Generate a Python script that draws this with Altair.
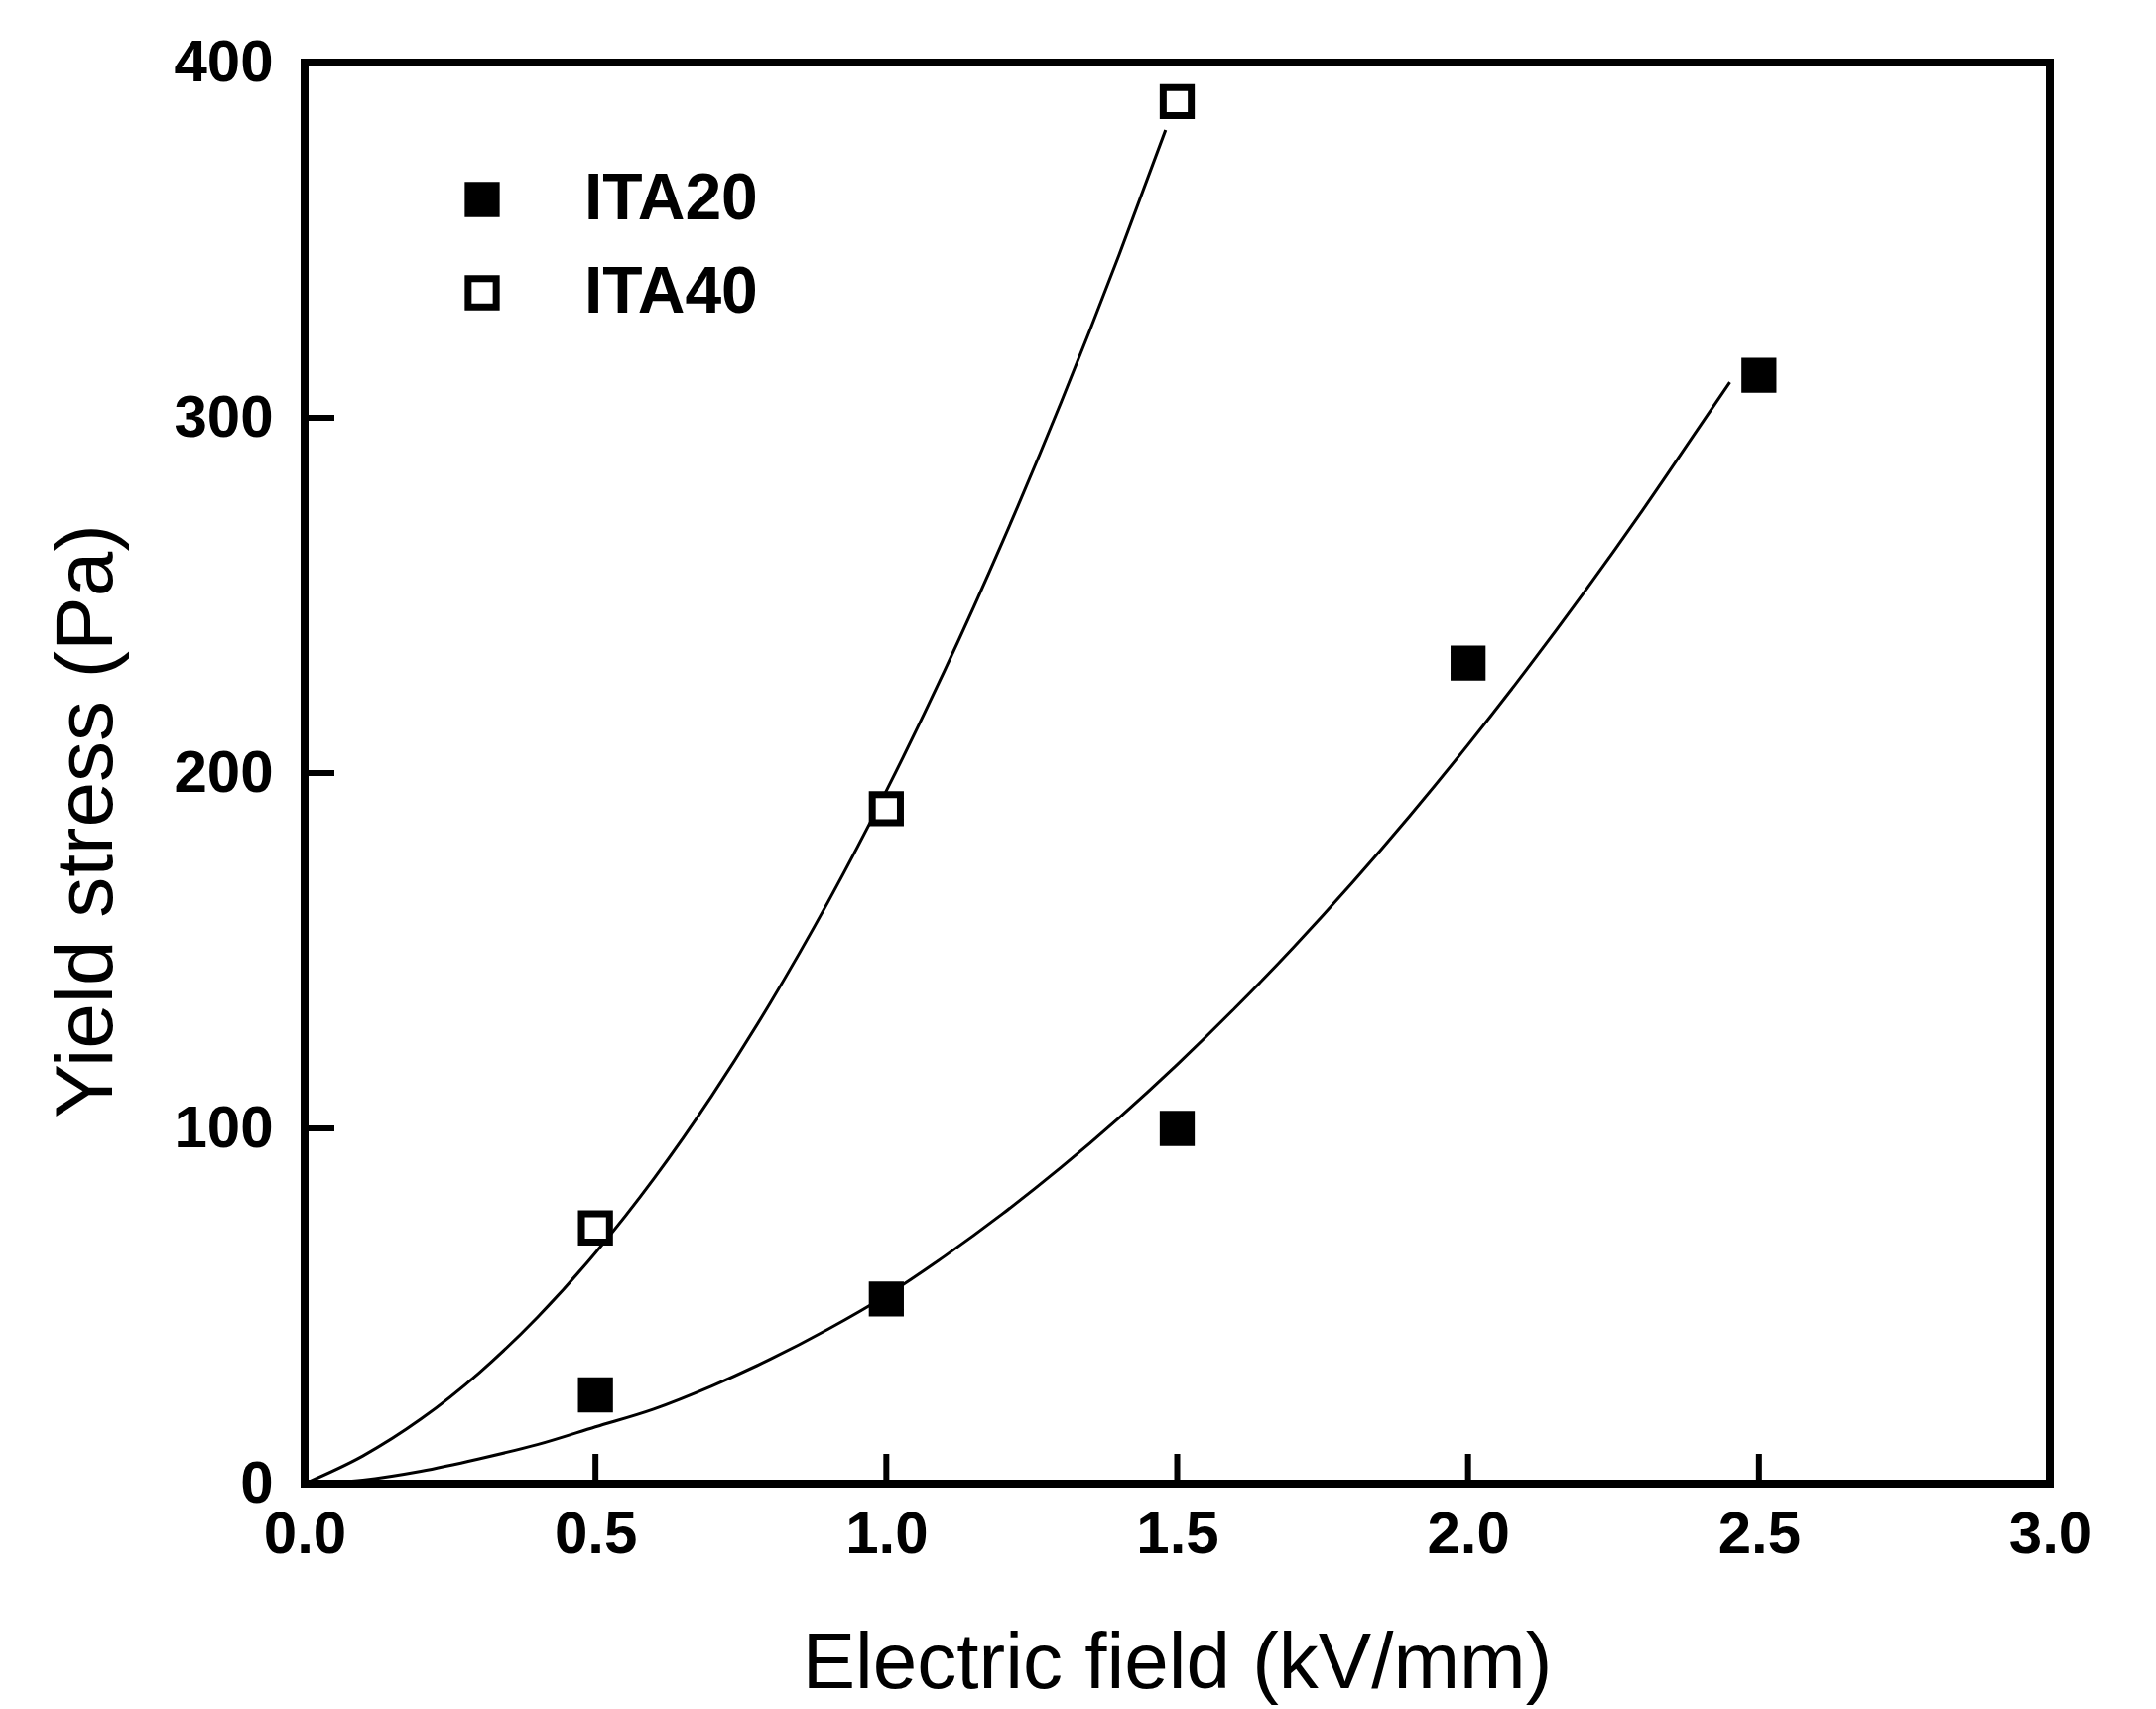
import altair as alt
import pandas as pd

# Measured data points
ita20_e = [0.5, 1.0, 1.5, 2.0, 2.5]
ita20_y = [25, 52, 100, 231, 312]
ita40_e = [0.5, 1.0, 1.5]
ita40_y = [72, 190, 389]

# Fitted curves
fit40_e = [0, 0.1, 0.2, 0.3, 0.4, 0.5, 0.6, 0.7, 0.8, 0.9, 1.0, 1.1, 1.2, 1.3, 1.4, 1.48]
fit40_y = [0, 7.8, 18.2, 31.2, 46.8, 65, 85.8, 109.2, 135.2, 163.8, 195, 228.8, 265.2, 304.2, 345.8, 381]
fit20_e = [0, 0.1, 0.2, 0.3, 0.4, 0.5, 0.6, 0.7, 0.8, 0.9, 1.0, 1.1, 1.2, 1.3, 1.4, 1.5,
           1.6, 1.7, 1.8, 1.9, 2.0, 2.1, 2.2, 2.3, 2.4, 2.45]
fit20_y = [0, 1, 3.5, 7, 11, 16, 21, 27.5, 35, 43.5, 53, 64, 76, 89, 103, 118,
           134, 151, 169, 188, 208, 229, 251, 274, 298, 310]

x_ticks = [0.0, 0.5, 1.0, 1.5, 2.0, 2.5, 3.0]
y_ticks = [0, 100, 200, 300, 400]
series = ["ITA20", "ITA40"]

W, H = 1759, 1432

pts = pd.DataFrame(
    {"E": ita20_e + ita40_e,
     "Y": ita20_y + ita40_y,
     "s": [series[0]] * len(ita20_e) + [series[1]] * len(ita40_e)}
)
fits = pd.DataFrame(
    {"E": fit20_e + fit40_e,
     "Y": fit20_y + fit40_y,
     "s": [series[0]] * len(fit20_e) + [series[1]] * len(fit40_e)}
)
xt = pd.DataFrame({"E": x_ticks})
yt = pd.DataFrame({"Y": y_ticks})

xscale = alt.Scale(domain=[0, 3], nice=False, zero=False)
yscale = alt.Scale(domain=[0, 400], nice=False, zero=False)

LABFONT = "Liberation Sans, Arial, sans-serif"

xaxis = alt.Axis(
    values=x_ticks, format=".1f", title="Electric field (kV/mm)",
    grid=False, ticks=False, tickSize=0, domain=False,
    labelFont=LABFONT, labelFontSize=60, labelFontWeight="bold", labelColor="black",
    labelPadding=22, labelFlush=False,
    titleFont=LABFONT, titleFontSize=80, titleFontWeight="normal", titleColor="black",
    titleX=879, titleY=205, titleBaseline="alphabetic", titleAlign="center",
)
yaxis = alt.Axis(
    values=y_ticks, format="d", title="Yield stress (Pa)",
    grid=False, ticks=False, tickSize=0, domain=False,
    labelFont=LABFONT, labelFontSize=60, labelFontWeight="bold", labelColor="black",
    labelPadding=32, labelFlush=False,
    titleFont=LABFONT, titleFontSize=82, titleFontWeight="normal", titleColor="black",
    titleX=-195, titleY=764, titleBaseline="alphabetic", titleAlign="center", titleAngle=-90,
)

lines = alt.Chart(fits).mark_line(color="black", strokeWidth=3, interpolate="monotone").encode(
    x=alt.X("E:Q", scale=xscale, axis=xaxis),
    y=alt.Y("Y:Q", scale=yscale, axis=yaxis),
    detail="s:N",
)

points = alt.Chart(pts).mark_square(size=800, stroke="black", strokeWidth=7, opacity=1).encode(
    x=alt.X("E:Q", scale=xscale),
    y=alt.Y("Y:Q", scale=yscale),
    fill=alt.Fill(
        "s:N",
        scale=alt.Scale(domain=series, range=["black", "white"]),
        legend=alt.Legend(
            orient="none", legendX=146, legendY=105, title=None,
            symbolType="square", symbolSize=800, symbolStrokeWidth=7,
            symbolStrokeColor="black", symbolOpacity=1,
            labelFont=LABFONT,
            labelFontSize=66, labelFontWeight="bold", labelColor="black",
            labelOffset=70, rowPadding=28, padding=0, labelLimit=0,
        ),
    ),
)

xticks = alt.Chart(xt).mark_rule(color="black", strokeWidth=6).encode(
    x=alt.X("E:Q", scale=xscale),
    y=alt.value(H),
    y2=alt.value(H - 30),
)
yticks = alt.Chart(yt).mark_rule(color="black", strokeWidth=6).encode(
    y=alt.Y("Y:Q", scale=yscale),
    x=alt.value(0),
    x2=alt.value(30),
)

chart = alt.layer(lines, xticks, yticks, points).properties(
    width=W, height=H,
    autosize=alt.AutoSizeParams(type="none"),
    padding={"left": 307, "top": 63, "right": 107, "bottom": 227},
    background="white",
).configure_view(stroke="black", strokeWidth=8)

chart.save("out.html", embed_options={"renderer": "svg", "actions": False})
